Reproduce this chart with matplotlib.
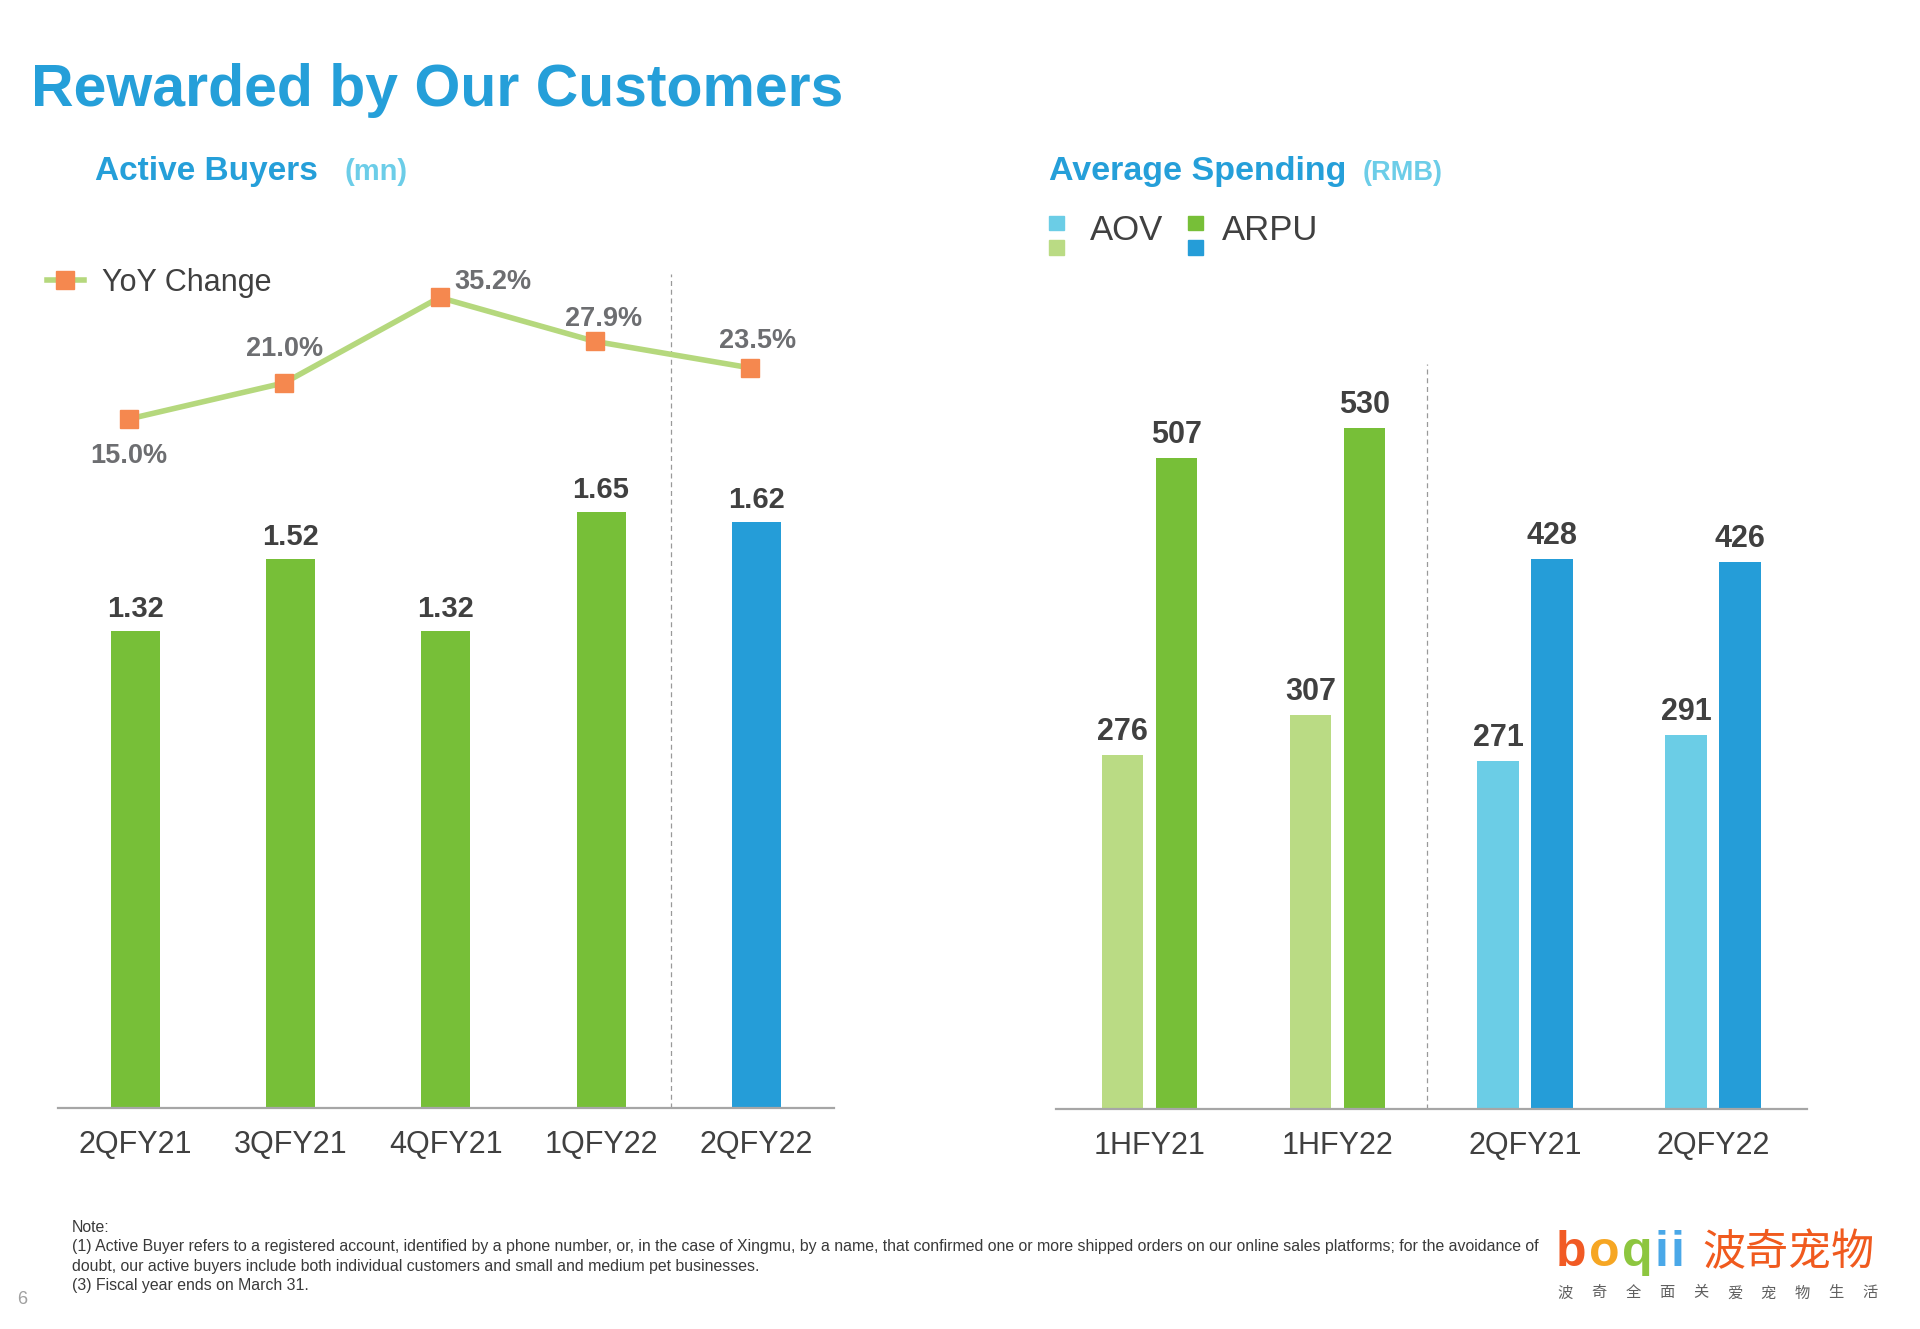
import matplotlib
matplotlib.use("Agg")
import matplotlib.pyplot as plt
from matplotlib.lines import Line2D
from matplotlib.patches import Rectangle
import numpy as np

# ── Data ─────────────────────────────────────────
buyer_periods = ["2QFY21", "3QFY21", "4QFY21", "1QFY22", "2QFY22"]
active_buyers = [1.32, 1.52, 1.32, 1.65, 1.62]
yoy_change = [15.0, 21.0, 35.2, 27.9, 23.5]

spend_periods = ["1HFY21", "1HFY22", "2QFY21", "2QFY22"]
aov = [276, 307, 271, 291]
arpu = [507, 530, 428, 426]

note_lines = [
    "Note:",
    "(1) Active Buyer refers to a registered account, identified by a phone number, or, in the case of Xingmu, "
    "by a name, that confirmed one or more shipped orders on our online sales platforms; for the avoidance of",
    "doubt, our active buyers include both individual customers and small and medium pet businesses.",
    "(3) Fiscal year ends on March 31.",
]

# ── Style ────────────────────────────────────────
W, H = 1920, 1329
BLUE_T = "#259fd9"
LIGHT_T = "#6ccde8"
GREEN = "#77bf38"
GREEN_L = "#badb84"
BLUE = "#259dd8"
CYAN = "#6bcde6"
LINE_G = "#b5d87d"
ORANGE = "#f5884f"
DARK = "#404040"
GRAY = "#6d6e71"
AXIS = "#a6a6a6"

plt.rcParams["font.family"] = ["Liberation Sans", "Noto Sans CJK SC", "DejaVu Sans"]


def fx(px):
    return px / W


def fy(py):
    return 1 - py / H


fig = plt.figure(figsize=(W / 100, H / 100), dpi=100)
fig.patch.set_facecolor("white")

# ── Titles ───────────────────────────────────────
fig.text(fx(31), fy(106), "Rewarded by Our Customers", fontsize=42.5,
         fontweight="bold", color=BLUE_T, va="baseline")
fig.text(fx(95), fy(180), "Active Buyers", fontsize=24,
         fontweight="bold", color=BLUE_T, va="baseline")
fig.text(fx(344), fy(180), "(mn)", fontsize=21,
         fontweight="bold", color=LIGHT_T, va="baseline")
fig.text(fx(1049), fy(180), "Average Spending", fontsize=24.5,
         fontweight="bold", color=BLUE_T, va="baseline")
fig.text(fx(1363), fy(180), "(RMB)", fontsize=19.5,
         fontweight="bold", color=LIGHT_T, va="baseline")

# ── Panel 1: Active buyers ───────────────────────
top1, base1 = 200, 1108
ax1 = fig.add_axes([fx(57.5), fy(base1), fx(834) - fx(57.5), (base1 - top1) / H])
x1 = np.arange(len(buyer_periods))
bar_colors = [GREEN] * (len(buyer_periods) - 1) + [BLUE]
ax1.bar(x1, active_buyers, width=0.315, color=bar_colors)
ax1.set_xlim(-0.5, 4.5)
ax1.set_ylim(0, (base1 - top1) / 361.5)
for xi, v in zip(x1, active_buyers):
    ax1.annotate(f"{v:.2f}", (xi, v), xytext=(0, 8), textcoords="offset pixels",
                 ha="center", va="bottom", fontsize=21, fontweight="bold", color=DARK)
ax1.plot([3.45, 3.45], [0, (base1 - 274) / 361.5], color="#999999",
         linestyle=(0, (4, 3)), linewidth=0.9)

ax1b = ax1.twinx()
ax1b.set_position(ax1.get_position())
ax1b.set_ylim(-(base1 - 509.2) / 6.015, (509.2 - top1) / 6.015)
ax1b.set_xlim(-0.5, 4.5)
# markers sit slightly left of the bar centres in the original
x_line = x1 - 0.04
ax1b.plot(x_line, yoy_change, color=LINE_G, linewidth=4, marker="s", markersize=13,
          markerfacecolor=ORANGE, markeredgecolor=ORANGE, zorder=5)
pct_offsets = [(0, -37), (0, 34), (53, 15), (9, 22), (7, 27)]
for xi, v, (dx, dy) in zip(x_line, yoy_change, pct_offsets):
    ax1b.annotate(f"{v:.1f}%", (xi, v), xytext=(dx, dy), textcoords="offset pixels",
                  ha="center", va="center", fontsize=19.5, fontweight="bold", color=GRAY)
ax1b.axis("off")

ax1.legend(handles=[Line2D([0], [0], color=LINE_G, lw=4, marker="s", markersize=13,
                           markerfacecolor=ORANGE, markeredgecolor=ORANGE)],
           labels=["YoY Change"], loc="center left",
           bbox_to_anchor=(fx(47), fy(283)), bbox_transform=fig.transFigure,
           frameon=False, fontsize=22, handlelength=1.2, handletextpad=0.6,
           labelcolor=DARK, borderpad=0, borderaxespad=0)

# ── Panel 2: Average spending ────────────────────
top2, base2 = 300, 1109
ax2 = fig.add_axes([fx(1055.5), fy(base2), fx(1807) - fx(1055.5), (base2 - top2) / H])
x2 = np.arange(len(spend_periods))
aov_colors = [GREEN_L, GREEN_L, CYAN, CYAN]
arpu_colors = [GREEN, GREEN, BLUE, BLUE]
bw, off = 0.221, 0.1436
ax2.bar(x2 - off, aov, width=bw, color=aov_colors)
ax2.bar(x2 + off, arpu, width=bw, color=arpu_colors)
ax2.set_xlim(-0.5, 3.5)
ax2.set_ylim(0, (base2 - top2) / 1.284)
for xi, v in zip(x2 - off, aov):
    ax2.annotate(f"{v}", (xi, v), xytext=(0, 8), textcoords="offset pixels",
                 ha="center", va="bottom", fontsize=22, fontweight="bold", color=DARK)
for xi, v in zip(x2 + off, arpu):
    ax2.annotate(f"{v}", (xi, v), xytext=(0, 8), textcoords="offset pixels",
                 ha="center", va="bottom", fontsize=22, fontweight="bold", color=DARK)
ax2.plot([1.48, 1.48], [0, (base2 - 364) / 1.284], color="#999999",
         linestyle=(0, (4, 3)), linewidth=0.9)

for ax, labels, xs in [(ax1, buyer_periods, x1), (ax2, spend_periods, x2)]:
    ax.set_xticks(xs)
    ax.set_xticklabels(labels, fontsize=22, color=DARK)
    ax.tick_params(axis="x", length=0, pad=16)
    ax.set_yticks([])
    for s in ["top", "right", "left"]:
        ax.spines[s].set_visible(False)
    ax.spines["bottom"].set_color(AXIS)
    ax.spines["bottom"].set_linewidth(1.6)
    ax.patch.set_alpha(0)

# right legend: stacked squares
sq = 14.7
for (x0, y0, c) in [(1049.4, 215.5, CYAN), (1049.4, 240, GREEN_L),
                    (1188, 215.5, GREEN), (1188, 240, BLUE)]:
    fig.patches.append(Rectangle((fx(x0), fy(y0 + sq)), sq / W, sq / H,
                                 transform=fig.transFigure, color=c, figure=fig))
fig.text(fx(1090), fy(231), "AOV", fontsize=25, color=DARK, va="center")
fig.text(fx(1222), fy(231), "ARPU", fontsize=25, color=DARK, va="center")

# ── Footnote ─────────────────────────────────────
for i, line in enumerate(note_lines):
    fig.text(fx(72), fy(1227 + 19.6 * i), line, fontsize=11.4, color="#3a3a3a", va="center")
fig.text(fx(17), fy(1299), "6", fontsize=13, color="#a0a0a0", va="center")

# ── Logo ─────────────────────────────────────────
for ch, c, xp in [("b", "#f15a24", 1556), ("o", "#f6a623", 1589), ("q", "#8dc63f", 1622),
                  ("i", "#4aa8e8", 1655), ("i", "#4aa8e8", 1671)]:
    fig.text(fx(xp), fy(1266), ch, fontsize=36, fontweight="bold", color=c, va="baseline")
fig.text(fx(1702), fy(1253), "波奇宠物", fontsize=31, color="#f05a1e", va="center",
         family=["Noto Sans CJK SC"])
for i, ch in enumerate("波奇全面关爱宠物生活"):
    fig.text(fx(1565 + 33.9 * i), fy(1293), ch, fontsize=11, color="#606060",
             ha="center", va="center", family=["Noto Sans CJK SC"])

fig.savefig("out.png", dpi=100, facecolor="white")
